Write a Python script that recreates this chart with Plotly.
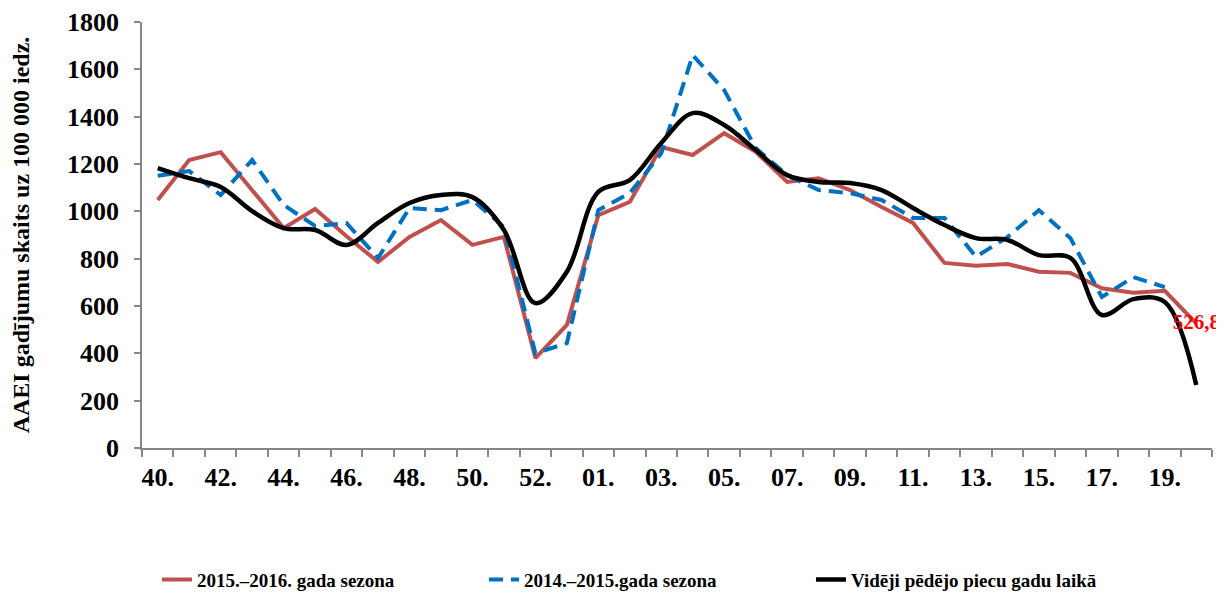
import plotly.graph_objects as go

weeks = ["40", "41", "42", "43", "44", "45", "46", "47", "48", "49", "50", "51", "52", "53",
         "01", "02", "03", "04", "05", "06", "07", "08", "09", "10", "11", "12", "13", "14",
         "15", "16", "17", "18", "19", "20"]

season_2015_2016 = [1048, 1217, 1250, 1090, 929, 1010, 895, 786, 892, 963, 858, 892, 380, 520,
                    984, 1040, 1272, 1238, 1330, 1252, 1124, 1140, 1090, 1018, 951, 782, 770, 777,
                    745, 740, 675, 656, 664, 526.8]

season_2014_2015 = [1150, 1170, 1069, 1217, 1027, 938, 950, 803, 1014, 1005, 1048, 934, 400, 443,
                    1005, 1077, 1245, 1660, 1512, 1267, 1153, 1090, 1077, 1048, 972, 972, 808, 891,
                    1005, 887, 638, 722, 680, None]

avg_5_years = [1183, 1140, 1103, 1001, 929, 921, 858, 951, 1035, 1069, 1060, 921, 612, 745,
               1082, 1132, 1289, 1415, 1365, 1259, 1153, 1124, 1120, 1090, 1014, 942, 887, 879,
               815, 803, 562, 629, 617, 266]

series_names = ["2015.–2016. gada sezona", "2014.–2015.gada sezona", "Vidēji pēdējo piecu gadu laikā"]
last_label = "526,8"

idx = list(range(len(weeks)))
tick_idx = idx[::2]
tick_text = [weeks[i] + "." for i in tick_idx]
boundaries = [i - 0.5 for i in idx] + [idx[-1] + 0.5]

serif = "Liberation Serif"

fig = go.Figure()
fig.add_trace(go.Scatter(x=idx, y=season_2015_2016, mode="lines", name=series_names[0],
                         line=dict(color="#C0504D", width=4)))
fig.add_trace(go.Scatter(x=idx, y=season_2014_2015, mode="lines", name=series_names[1],
                         line=dict(color="#0070C0", width=4, dash="14px,8px")))
fig.add_trace(go.Scatter(x=idx, y=avg_5_years, mode="lines", name=series_names[2],
                         line=dict(color="#000000", width=4.5, shape="spline", smoothing=1)))
fig.add_trace(go.Scatter(x=[idx[-1]], y=[season_2015_2016[-1]], mode="text", text=[last_label],
                         textposition="middle center", showlegend=False, cliponaxis=False,
                         textfont=dict(family=serif, size=21, color="#FF0000", weight="bold")))

axis_grey = "#868686"
# page body has an 8px margin; figure is sized so that it fills the 1224x593 window
fig.update_layout(
    width=1216, height=585,
    margin=dict(l=134, r=12, t=14, b=145, autoexpand=False),
    paper_bgcolor="white", plot_bgcolor="white",
    font=dict(family=serif, color="black", weight="bold"),
    xaxis=dict(
        range=[-0.5, idx[-1] + 0.5], tickmode="array", tickvals=tick_idx, ticktext=tick_text,
        ticks="", showgrid=False, zeroline=False, showline=True, linecolor=axis_grey, linewidth=1.5,
        tickfont=dict(family=serif, size=26, color="black", weight="bold"),
        ticklabelstandoff=5,
        minor=dict(tickmode="array", tickvals=boundaries, ticks="outside", ticklen=7,
                   tickcolor=axis_grey, tickwidth=1.5, showgrid=False),
    ),
    yaxis=dict(
        range=[0, 1800], dtick=200, tick0=0, showgrid=False, zeroline=False,
        showline=True, linecolor=axis_grey, linewidth=1.5,
        ticks="outside", ticklen=6, tickcolor=axis_grey, tickwidth=1.5,
        tickfont=dict(family=serif, size=26, color="black", weight="bold"),
        ticklabelstandoff=10,
        title=dict(text="AAEI gadījumu skaits uz 100 000 iedz.",
                   font=dict(family=serif, size=24, color="black", weight="bold"), standoff=34),
    ),
    legend=dict(orientation="h", x=0.014, xanchor="left", y=-0.309, yanchor="middle",
                font=dict(family=serif, size=19, color="black", weight="bold"),
                entrywidth=282, entrywidthmode="pixels", bgcolor="rgba(0,0,0,0)"),
)

fig.write_html("out.html")
